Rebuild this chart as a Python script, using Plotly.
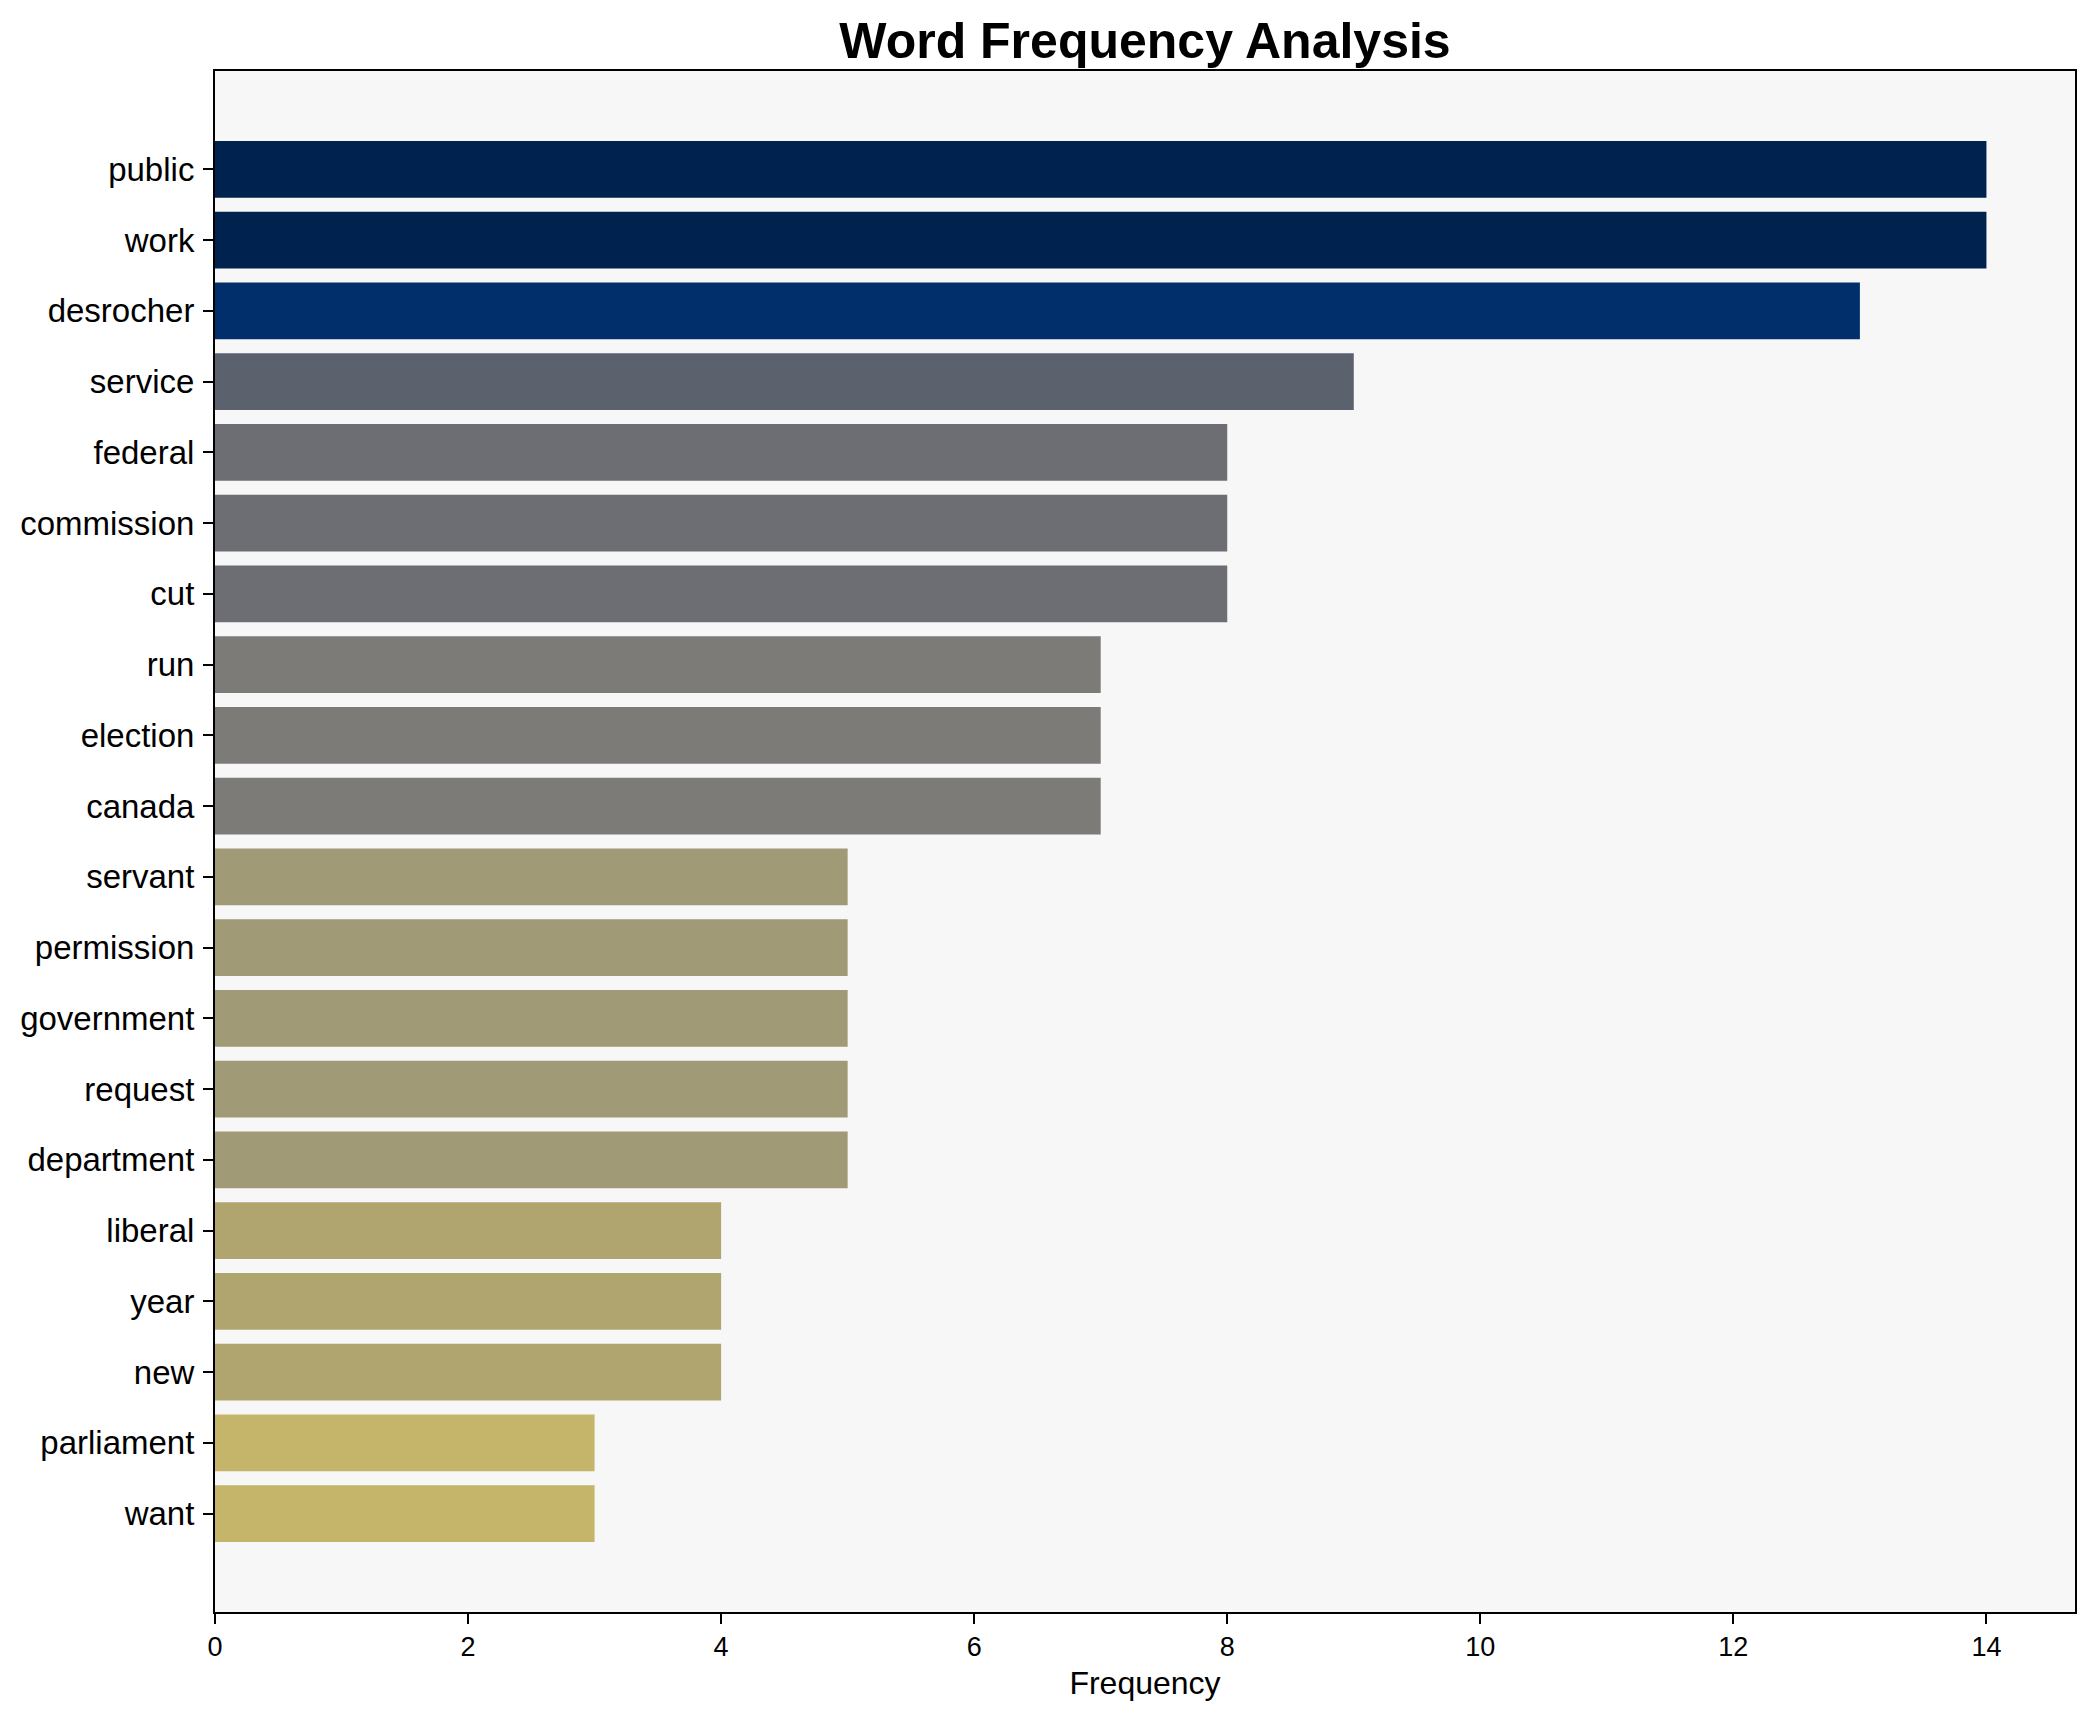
import plotly.graph_objects as go

words = ["public", "work", "desrocher", "service", "federal", "commission", "cut",
         "run", "election", "canada", "servant", "permission", "government", "request",
         "department", "liberal", "year", "new", "parliament", "want"]
counts = [14, 14, 13, 9, 8, 8, 8, 7, 7, 7, 5, 5, 5, 5, 5, 4, 4, 4, 3, 3]
x_ticks = [0, 2, 4, 6, 8, 10, 12, 14]

color_by_count = {14: "#00224e", 13: "#002f6b", 9: "#5c616e", 8: "#6d6e73",
                  7: "#7c7b78", 5: "#a09a76", 4: "#b0a46f", 3: "#c4b56a"}
bar_colors = [color_by_count[c] for c in counts]

FONT = "Liberation Sans, Arial, sans-serif"

fig = go.Figure(go.Bar(
    x=counts, y=words, orientation="h",
    marker=dict(color=bar_colors, line=dict(width=0)),
    width=0.8,
))

n = len(words)
fig.update_layout(
    width=2095, height=1722,
    margin=dict(l=207, r=28, t=63, b=118),
    paper_bgcolor="white", plot_bgcolor="#f7f7f7",
    font=dict(family=FONT, color="black", size=27),
    title=dict(text="<b>Word Frequency Analysis</b>", x=0.5, xref="paper", xanchor="center",
               y=1 - 32 / 1722, yanchor="middle",
               font=dict(family=FONT, size=50, color="black")),
    showlegend=False,
    bargap=0.2,
)
fig.update_xaxes(
    range=[0, 14.7], tickvals=x_ticks, ticktext=[str(v) for v in x_ticks],
    showgrid=False, zeroline=False,
    showline=True, linecolor="black", linewidth=2, mirror=True,
    ticks="outside", ticklen=10, tickwidth=1.5, tickcolor="black",
    tickfont=dict(family=FONT, size=27, color="black"),
    title=dict(text="Frequency", font=dict(family=FONT, size=32, color="black"), standoff=10),
)
fig.update_yaxes(
    type="category", categoryorder="array", categoryarray=words,
    range=[n - 1 + 1.39, -1.39],
    showgrid=False, zeroline=False,
    showline=True, linecolor="black", linewidth=2, mirror=True,
    ticks="outside", ticklen=10, tickwidth=1.5, tickcolor="black",
    ticklabelstandoff=2,
    tickfont=dict(family=FONT, size=33, color="black"),
)

fig.write_html("out.html")
